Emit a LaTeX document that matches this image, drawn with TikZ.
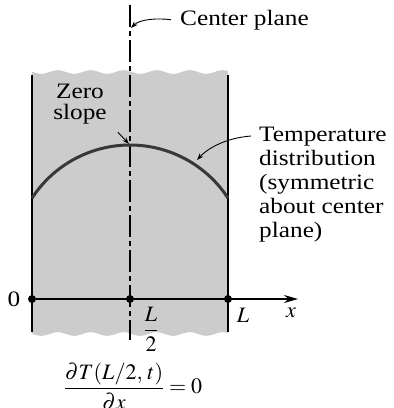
\documentclass[tikz,border=0pt]{standalone}
\usepackage{amsmath}
\usepackage{mathptmx}
\usepackage{fontspec}
\setmainfont{Liberation Serif}[FakeStretch=1.15]
\usetikzlibrary{arrows.meta}

\definecolor{slabgray}{gray}{0.8}
\definecolor{curvegray}{gray}{0.22}

\tikzset{
  dot/.style={circle, fill=black, inner sep=0pt, minimum size=8pt},
  leader/.style={-{Stealth[length=7pt,width=5pt]}, line width=0.9pt},
  txt/.style={font=\fontsize{22}{24}\selectfont, inner sep=0pt},
  face/.style={line width=1.4pt},
}

\begin{document}
\begin{tikzpicture}[x=1pt, y=-1pt]
        \useasboundingbox (0,0) rectangle (394,408);

        % Slab (wavy top and bottom)
        \fill[slabgray] plot[domain=32:228, samples=100] (\x, {72+1.8*sin(\x/33*360)})
            -- plot[domain=228:32, samples=100] (\x, {334+1.8*sin(\x/33*360)}) -- cycle;

        % Faces of the slab
        \draw[face] (32,75) -- (32,332);
        \draw[face] (228,75) -- (228,332);

        % Center plane (dash-dot)
        \draw[face, dash pattern=on 22pt off 4pt on 5pt off 4pt] (130,5) -- (130,340);

        % Temperature profile
        \draw[curvegray, line width=3pt] plot[domain=-98:98, samples=60] ({130+\x}, {262-sqrt(117*117-\x*\x)});

        % x axis and points 0, L/2, L
        \node[dot] (o) at (32,299) {};
        \node[dot] (mid) at (130,299) {};
        \node[dot] (Lend) at (228,299) {};
        \coordinate (xtip) at (298,299);
        \draw[face, -{Stealth[length=14pt,width=8pt]}] (o) -- (xtip);

        % Axis labels
        \node[txt] (zero) at (14,299) {0};
        \node[txt] (half) at (151,329) {$\dfrac{L}{2}$};
        \node[txt] (ell) at (243,315) {$L$};
        \node[txt] (xlab) at (291,313) {$x$};

        % Callouts
        \node[txt, anchor=base west] (cplane) at (180,25) {Center plane};
        \node[txt, font=\fontsize{22}{21}\selectfont, align=center] (zslope) at (80,104) {Zero\\slope};
        \node[txt, align=left, anchor=north west] (tdist) at (259,127) {Temperature\\distribution\\(symmetric\\about center\\plane)};

        \coordinate (cptip) at (131,28);
        \coordinate (peak) at (129,144);
        \coordinate (tprof) at (197,160);
        \draw[leader] ([xshift=-9pt]cplane.west) .. controls (158,18) and (140,19) .. (cptip);
        \draw[leader] ([xshift=11pt,yshift=-8pt]zslope.south east) -- (peak);
        \draw[leader] ([shift={(-8pt,-9pt)}]tdist.north west) .. controls (226,138) and (208,148) .. (tprof);

        % Zero slope condition
        \node[txt] (eq) at (133,386) {$\dfrac{\partial T(L/2,\,t)}{\partial x}=0$};
    \end{tikzpicture}
\end{document}
